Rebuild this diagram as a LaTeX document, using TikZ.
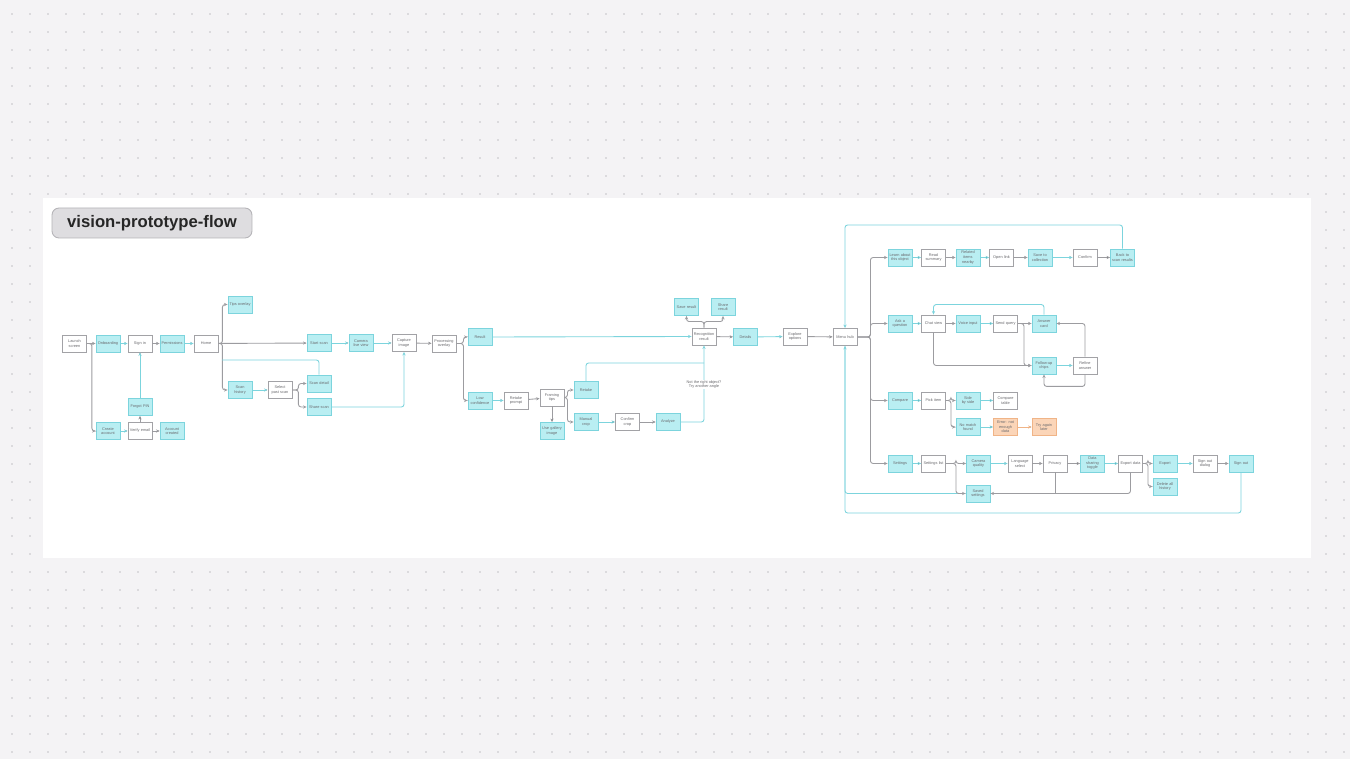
\documentclass[tikz,border=0pt]{standalone}
\usepackage{fontspec}
\setmainfont{Liberation Sans}
\usetikzlibrary{arrows.meta}

\definecolor{canvas}{HTML}{F4F3F5}
\definecolor{dotgray}{HTML}{C2C1C6}
\definecolor{screenfill}{HTML}{B9EEF2}
\definecolor{screenline}{HTML}{7CD4DD}
\definecolor{pageline}{HTML}{A2A2A6}
\definecolor{linkgray}{HTML}{9C9CA0}
\definecolor{alertfill}{HTML}{FBD5B8}
\definecolor{alertline}{HTML}{F0B487}
\definecolor{titlefill}{HTML}{DEDDE0}
\definecolor{titleline}{HTML}{B5B4B8}
\definecolor{boxtext}{HTML}{6A6A6E}

\newcommand{\boxfont}{\fontsize{2.2}{2.6}\selectfont}

\begin{document}
\begin{tikzpicture}[x=0.02cm, y=-0.02cm, line width=0.5pt]
                \tikzstyle{page}=[draw=pageline, fill=white, minimum width=0.48cm, minimum height=0.34cm, inner sep=0pt, text width=0.42cm, align=center, font=\boxfont, text=boxtext]
                \tikzstyle{screen}=[page, draw=screenline, fill=screenfill]
                \tikzstyle{alert}=[page, draw=alertline, fill=alertfill]
                \tikzstyle{link}=[draw=linkgray, rounded corners=1.5pt, -{Stealth[length=2pt, width=1.8pt]}]
                \tikzstyle{flow}=[draw=screenline, rounded corners=1.5pt, -{Stealth[length=2pt, width=1.8pt]}]
                \tikzstyle{warm}=[draw=alertline, -{Stealth[length=2pt, width=1.8pt]}]
                \tikzstyle{title}=[draw=titleline, fill=titlefill, rounded corners=4pt, minimum width=4cm, minimum height=0.6cm, font=\bfseries\fontsize{9.5}{11}\selectfont, text=black!85]

                % canvas, dot grid and board
                \useasboundingbox (0,0) rectangle (1350,759);
                \fill[canvas] (0,0) rectangle (1350,759);
                \foreach \i in {0,...,74}
                  \foreach \j in {0,...,41}
                    \fill[dotgray] (12+18*\i, 14+18*\j) circle (0.45pt);
                \fill[white] (43,198) rectangle (1311,558);
                \node[title] (title) at (152,223) {vision-prototype-flow};

                % sign-in part
                \node[page] (launch) at (74.5,343.5) {Launch screen};
                \node[screen] (onboard) at (108,343.5) {Onboarding};
                \node[page] (signin) at (140,343.5) {Sign in};
                \node[screen] (perms) at (172,343.5) {Permissions};
                \node[page] (home) at (206,343.5) {Home};
                \node[screen] (forgot) at (140,407) {Forgot PIN};
                \node[screen] (signup) at (108,431) {Create account};
                \node[page] (verify) at (140,431) {Verify email};
                \node[screen] (created) at (172,431) {Account created};

                \path[link] (launch) edge (onboard);
                \draw[link] (launch.east) -- ++(5,0) |- (signup.west);
                \path[flow] (onboard) edge (signin);
                \path[link] (signin) edge (perms);
                \path[flow] (perms) edge (home);
                \path[flow] (forgot) edge (signin);
                \path[link] (verify) edge (forgot);
                \path[flow] (signup) edge (verify);
                \path[link] (verify) edge (created);

                % home part
                \node[screen] (tips) at (240,304.5) {Tips overlay};
                \node[screen] (startscan) at (319,343) {Start scan};
                \node[screen] (history) at (240,390) {Scan history};
                \node[page] (pastscan) at (280,390) {Select past scan};
                \node[screen] (scandetail) at (319,383.5) {Scan detail};
                \node[screen] (sharescan) at (319,407) {Share scan};
                \node[screen] (camera) at (361,343) {Camera live view};
                \node[page] (capture) at (404,343) {Capture image};
                \coordinate (hub) at (222,360);

                \draw[link] (home.east) -- ++(4,0) |- (tips.west);
                \draw[link] (home.east) -- ++(4,0) |- (history.west);
                \path[link] (home) edge (startscan);
                \draw[flow, -] (scandetail.north) |- (hub);
                \path[flow] (history) edge (pastscan);
                \draw[link] (pastscan.east) -- ++(6,0) |- (scandetail.west);
                \draw[link] (pastscan.east) -- ++(6,0) |- (sharescan.west);
                \path[flow] (startscan) edge (camera);
                \path[flow] (camera) edge (capture);
                \draw[flow] (sharescan.east) -| (capture.south);

                % recognition part
                \node[page] (processing) at (444,343.5) {Processing overlay};
                \node[screen] (result) at (480,337) {Result};
                \node[screen] (lowconf) at (480,400.5) {Low confidence};
                \node[page] (retakeask) at (516,400.5) {Retake prompt};
                \node[page] (framing) at (552,397.5) {Framing tips};
                \node[screen] (gallery) at (552,431) {Use gallery image};
                \node[screen] (retake) at (586,390) {Retake};
                \node[screen] (crop) at (586,422) {Manual crop};
                \node[page] (confirm) at (627.5,422) {Confirm crop};
                \node[screen] (analyze) at (668,422) {Analyze};
                \node[page] (recog) at (704,336.5) {Recognition result};
                \node[screen] (save) at (686.5,307) {Save result};
                \node[screen] (share) at (723,307) {Share result};
                \node[screen] (details) at (745.5,337) {Details};
                \node[page] (explore) at (795,336.5) {Explore options};
                \node[page] (menu) at (845,337) {Menu hub};
                \coordinate (merge) at (704,363);

                \path[link] (capture) edge (processing);
                \draw[link] (processing.east) -- ++(7,0) |- (result.west);
                \draw[link] (processing.east) -- ++(7,0) |- (lowconf.west);
                \draw[flow] (result.east) -- (recog.west);
                \path[flow] (lowconf) edge (retakeask);
                \path[link] (retakeask) edge (framing);
                \path[link] (framing) edge (gallery);
                \draw[link] (framing.east) -- ++(3,0) |- (retake.west);
                \draw[link] (framing.east) -- ++(3,0) |- (crop.west);
                \draw[flow, -] (retake.north) |- (merge);
                \path[flow] (crop) edge (confirm);
                \path[link] (confirm) edge (analyze);
                \draw[flow] (analyze.east) -| (recog.south);
                \node[fill=white, inner sep=0.3pt, font=\boxfont, text=boxtext, align=center] (why) at (704,384.5) {Not the right object?\\Try another angle};
                \draw[link] (recog.north) -- ++(0,-6) -| (save.south);
                \draw[link] (recog.north) -- ++(0,-6) -| (share.south);
                \path[link] (recog) edge (details);
                \path[flow] (details) edge (explore);
                \path[link] (explore) edge (menu);

                % menu rows
                \node[screen] (learnA) at (900,257.5) {Learn about this object};
                \node[page] (learnB) at (933.5,257.5) {Read summary};
                \node[screen] (learnC) at (968,257.5) {Related items nearby};
                \node[page] (learnD) at (1001.5,257.5) {Open link};
                \node[screen] (learnE) at (1040,257.5) {Save to collection};
                \node[page] (learnF) at (1085,257.5) {Confirm};
                \node[screen] (learnG) at (1122.5,257.5) {Back to scan results};

                \node[screen] (askA) at (900,323.5) {Ask a question};
                \node[page] (askB) at (933.5,323.5) {Chat view};
                \node[screen] (askC) at (968,323.5) {Voice input};
                \node[page] (askD) at (1005.5,323.5) {Send query};
                \node[screen] (askE) at (1044,323.5) {Answer card};
                \node[screen] (askF) at (1044,365.5) {Follow-up chips};
                \node[page] (askG) at (1085,365.5) {Refine answer};

                \node[screen] (compA) at (900,400.5) {Compare};
                \node[page] (compB) at (933.5,400.5) {Pick item};
                \node[screen] (compC) at (968,400.5) {Side by side};
                \node[page] (compD) at (1005.5,400.5) {Compare table};
                \node[screen] (compE) at (968,427) {No match found};
                \node[alert] (compF) at (1005.5,427) {Error: not enough data};
                \node[alert] (compG) at (1044,427) {Try again later};

                \node[screen] (setA) at (900,463.5) {Settings};
                \node[page] (setB) at (933.5,463.5) {Settings list};
                \node[screen] (setC) at (978.5,463.5) {Camera quality};
                \node[page] (setD) at (1020,463.5) {Language select};
                \node[page] (setE) at (1055,463.5) {Privacy};
                \node[screen] (setF) at (1092.5,463.5) {Data sharing toggle};
                \node[page] (setG) at (1130.5,463.5) {Export data};
                \node[screen] (setH) at (1165,463.5) {Export};
                \node[screen] (setI) at (1165,486.5) {Delete all history};
                \node[page] (setJ) at (1205,463.5) {Sign out dialog};
                \node[screen] (setK) at (1241,463.5) {Sign out};
                \node[screen] (setX) at (978,493.5) {Saved settings};

                \coordinate (topleft) at (845,225);
                \coordinate (botleft) at (845,513);

                \draw[link] (menu.east) -- ++(13,0) |- (learnA.west);
                \draw[link] (menu.east) -- ++(13,0) |- (askA.west);
                \draw[link] (menu.east) -- ++(13,0) |- (compA.west);
                \draw[link] (menu.east) -- ++(13,0) |- (setA.west);
                \draw[flow] (learnG.north) |- (topleft) -- (menu.north);
                \draw[flow] (setK.south) |- (botleft) -- (menu.south);
                \draw[flow, -] (setX.west) -| (menu.south);

                \path[flow] (learnA) edge (learnB);
                \path[link] (learnB) edge (learnC);
                \path[flow] (learnC) edge (learnD);
                \path[link] (learnD) edge (learnE);
                \path[flow] (learnE) edge (learnF);
                \path[link] (learnF) edge (learnG);

                \path[flow] (askA) edge (askB);
                \path[link] (askB) edge (askC);
                \path[flow] (askC) edge (askD);
                \path[link] (askD) edge (askE);
                \draw[link] (askD.east) -- ++(6,0) |- (askF.west);
                \draw[link] (askB.south) |- (askF.west);
                \draw[flow] (askE.north) -- ++(0,-10) -| (askB.north);
                \path[flow] (askF) edge (askG);
                \draw[link] (askG.north) |- (askE.east);
                \draw[link] (askG.south) -- ++(0,12) -| (askF.south);

                \path[flow] (compA) edge (compB);
                \draw[link] (compB.east) -- ++(5,0) |- (compC.west);
                \draw[link] (compB.east) -- ++(5,0) |- (compE.west);
                \path[flow] (compC) edge (compD);
                \path[flow] (compE) edge (compF);
                \path[warm] (compF) edge (compG);

                \path[flow] (setA) edge (setB);
                \draw[link] (setB.east) -- ++(10,0) |- (setC.west);
                \draw[link] (setB.east) -- ++(10,0) |- (setX.west);
                \path[flow] (setC) edge (setD);
                \path[link] (setD) edge (setE);
                \path[link] (setE) edge (setF);
                \path[flow] (setF) edge (setG);
                \draw[link] (setG.east) -- ++(5,0) |- (setH.west);
                \draw[link] (setG.east) -- ++(5,0) |- (setI.west);
                \path[flow] (setH) edge (setJ);
                \path[link] (setJ) edge (setK);
                \draw[link] (setG.south) |- (setX.east);
                \draw[draw=linkgray] (setE.south) -- (setE.south |- setX.east);
            \end{tikzpicture}
\end{document}
